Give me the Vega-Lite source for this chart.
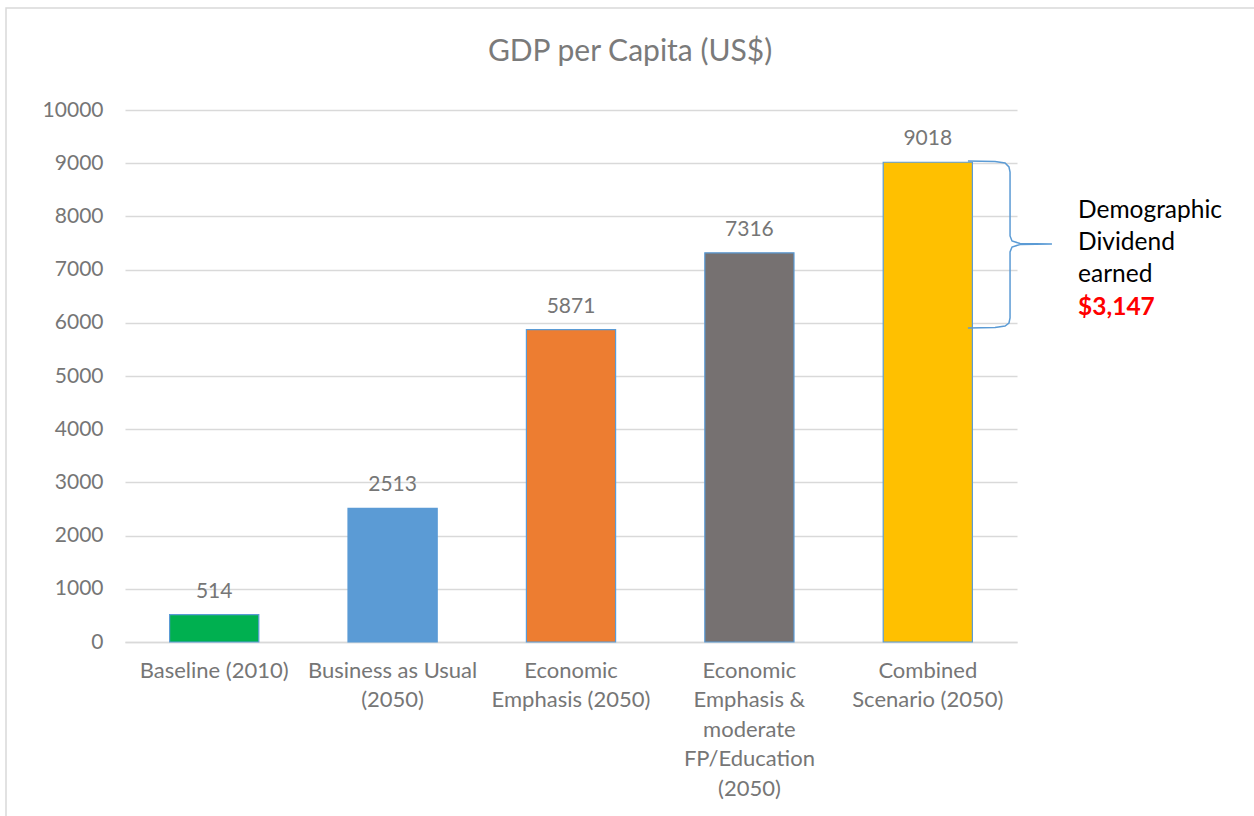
{
  "$schema": "https://vega.github.io/schema/vega-lite/v6.json",
  "width": 892,
  "height": 532,
  "autosize": {"type": "none"},
  "padding": {"left": 125, "top": 110, "right": 237, "bottom": 174},
  "background": "white",
  "config": {"font": "Lato", "view": {"stroke": null}},
  "datasets": {
    "bars": [
      {"scenario": "Baseline (2010)", "gdp": 514, "color": "#00B050"},
      {"scenario": "Business as Usual|(2050)", "gdp": 2513, "color": "#5B9BD5"},
      {"scenario": "Economic|Emphasis (2050)", "gdp": 5871, "color": "#ED7D31"},
      {"scenario": "Economic|Emphasis &|moderate|FP/Education|(2050)", "gdp": 7316, "color": "#767171"},
      {"scenario": "Combined|Scenario (2050)", "gdp": 9018, "color": "#FFC000"}
    ],
    "frame": [{"fx1": -0.667, "fx2": 6.6, "fy1": 11917, "fy2": -4000}],
    "heading": [{"hx": 2.831, "hy": 11090, "text": "GDP per Capita (US$)"}],
    "brace": [
      {"i": 0, "bx": 4.725, "by": 9041},
      {"i": 1, "bx": 4.877, "by": 9032},
      {"i": 2, "bx": 4.933, "by": 9004},
      {"i": 3, "bx": 4.955, "by": 8929},
      {"i": 4, "bx": 4.961, "by": 8835},
      {"i": 5, "bx": 4.961, "by": 7632},
      {"i": 6, "bx": 4.972, "by": 7538},
      {"i": 7, "bx": 5.017, "by": 7491},
      {"i": 8, "bx": 5.196, "by": 7481},
      {"i": 9, "bx": 5.017, "by": 7472},
      {"i": 10, "bx": 4.972, "by": 7425},
      {"i": 11, "bx": 4.961, "by": 7331},
      {"i": 12, "bx": 4.961, "by": 6090},
      {"i": 13, "bx": 4.955, "by": 5996},
      {"i": 14, "bx": 4.933, "by": 5940},
      {"i": 15, "bx": 4.877, "by": 5912},
      {"i": 16, "bx": 4.725, "by": 5902}
    ],
    "note": [
      {"nx": 5.342, "ny": 8102, "label": "Demographic"},
      {"nx": 5.342, "ny": 7500, "label": "Dividend"},
      {"nx": 5.342, "ny": 6898, "label": "earned"}
    ],
    "amount": [
      {"nx": 5.342, "ny": 6278, "label": "$3,147"}
    ]
  },
  "layer": [
    {
      "data": {"name": "frame"},
      "mark": {"type": "rect", "fill": null, "stroke": "#d9d9d9", "strokeWidth": 1.5, "clip": false},
      "encoding": {
        "x": {"field": "fx1", "type": "quantitative", "scale": {"domain": [0, 5]}, "axis": null},
        "x2": {"field": "fx2"},
        "y": {"field": "fy1", "type": "quantitative"},
        "y2": {"field": "fy2"}
      }
    },
    {
      "data": {"name": "heading"},
      "mark": {"type": "text", "align": "center", "baseline": "middle", "fontSize": 30, "color": "#7a7a7a", "clip": false},
      "encoding": {
        "x": {"field": "hx", "type": "quantitative", "scale": {"domain": [0, 5]}, "axis": null},
        "y": {"field": "hy", "type": "quantitative"},
        "text": {"field": "text", "type": "nominal"}
      }
    },
    {
      "data": {"name": "bars"},
      "layer": [
        {
          "mark": {"type": "bar", "stroke": "#5B9BD5", "strokeWidth": 1.2},
          "encoding": {
            "x": {
              "field": "scenario", "type": "nominal", "sort": null,
              "scale": {"paddingInner": 0.5, "paddingOuter": 0.25},
              "axis": {"title": null, "labelAngle": 0, "labelExpr": "split(datum.label, '|')", "labelFontSize": 22, "labelColor": "#767676", "labelLineHeight": 29.5, "labelPadding": 18, "ticks": false, "domainColor": "#d9d9d9", "domainWidth": 1.5, "labelLimit": 300}
            },
            "y": {
              "field": "gdp", "type": "quantitative",
              "scale": {"domain": [0, 10000]},
              "axis": {"title": null, "values": [0, 1000, 2000, 3000, 4000, 5000, 6000, 7000, 8000, 9000, 10000], "format": "d", "labelFontSize": 21, "labelColor": "#767676", "labelPadding": 22, "ticks": false, "domain": false, "gridColor": "#d9d9d9", "gridWidth": 1.5}
            },
            "color": {"field": "color", "type": "nominal", "scale": null}
          }
        },
        {
          "mark": {"type": "text", "baseline": "bottom", "dy": -13, "fontSize": 21, "color": "#767676"},
          "encoding": {
            "x": {"field": "scenario", "type": "nominal", "sort": null},
            "y": {"field": "gdp", "type": "quantitative"},
            "text": {"field": "gdp", "type": "quantitative", "format": "d"}
          }
        }
      ]
    },
    {
      "data": {"name": "brace"},
      "mark": {"type": "line", "color": "#5B9BD5", "strokeWidth": 1.5, "clip": false, "interpolate": "linear"},
      "encoding": {
        "x": {"field": "bx", "type": "quantitative", "scale": {"domain": [0, 5]}, "axis": null},
        "y": {"field": "by", "type": "quantitative"},
        "order": {"field": "i", "type": "quantitative"}
      }
    },
    {
      "data": {"name": "note"},
      "mark": {"type": "text", "align": "left", "baseline": "middle", "fontSize": 24.5, "color": "#000000", "clip": false},
      "encoding": {
        "x": {"field": "nx", "type": "quantitative", "scale": {"domain": [0, 5]}, "axis": null},
        "y": {"field": "ny", "type": "quantitative"},
        "text": {"field": "label", "type": "nominal"}
      }
    },
    {
      "data": {"name": "amount"},
      "mark": {"type": "text", "align": "left", "baseline": "middle", "fontSize": 24.5, "fontWeight": "bold", "color": "#FF0000", "clip": false},
      "encoding": {
        "x": {"field": "nx", "type": "quantitative", "scale": {"domain": [0, 5]}, "axis": null},
        "y": {"field": "ny", "type": "quantitative"},
        "text": {"field": "label", "type": "nominal"}
      }
    }
  ],
  "resolve": {"scale": {"x": "independent"}, "axis": {"x": "independent"}}
}
